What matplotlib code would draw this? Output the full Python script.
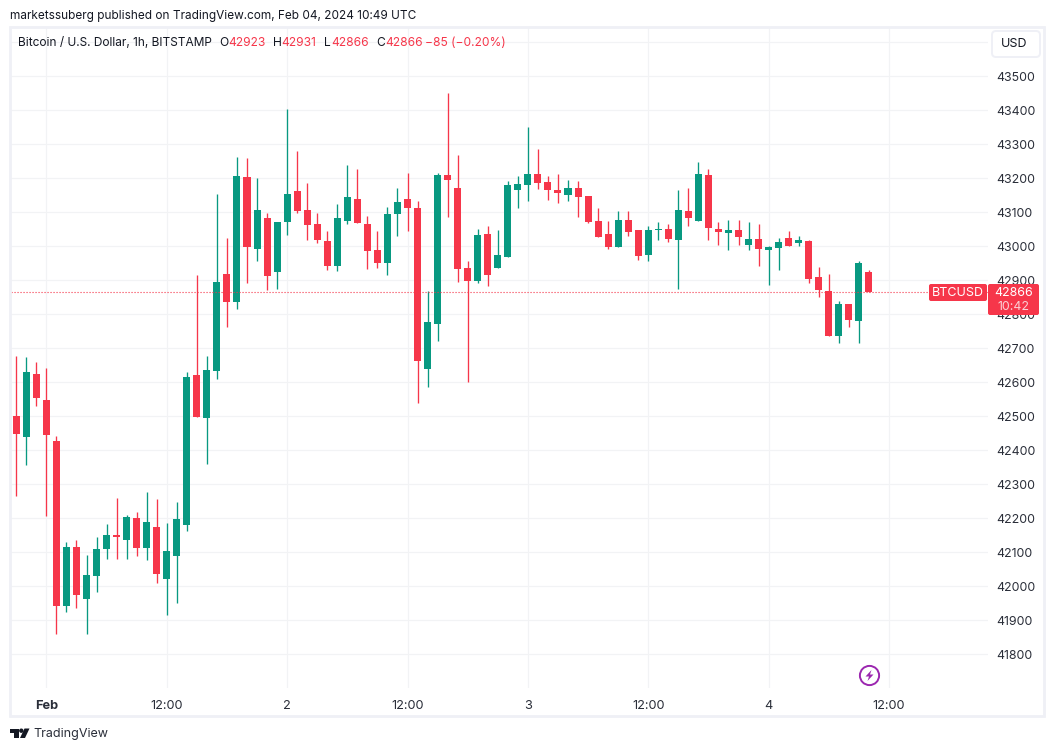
import matplotlib
matplotlib.use("Agg")
import matplotlib.pyplot as plt
from matplotlib.patches import FancyBboxPatch, Rectangle, Circle, Polygon

opens = [42501,42439,42624,42548,42427,41942,42115,41963,42030,42110,42151,42136,42201,42113,42174,42021,42089,42180,42621,42495,
         42633,42919,42836,43204,42992,43083,42924,43071,43163,43107,43066,43016,42942,43074,43139,43066,42989,42951,43095,43139,
         43113,42639,42771,43210,43171,42936,42898,43036,42936,42968,43166,43180,43213,43189,43166,43151,43171,43148,43074,43036,
         42998,43077,43048,42974,43048,43051,43018,43104,43074,43210,43051,43039,43048,43004,43021,42989,42995,43024,43010,43016,
         42910,42869,42736,42830,42780,42923]
closes = [42448,42630,42554,42445,41942,42115,41974,42033,42110,42151,42145,42204,42113,42189,42036,42104,42198,42616,42498,42636,
          42895,42836,43207,42998,43107,42913,43071,43154,43104,43063,43018,42942,43083,43145,43068,42986,42951,43095,43130,43113,
          42663,42777,43210,43195,42933,42898,43033,42916,42974,43180,43183,43213,43186,43166,43157,43171,43145,43071,43027,42998,
          43077,43042,42971,43048,43051,43021,43107,43083,43213,43054,43042,43048,43027,43021,42992,42998,43013,43001,43018,42904,
          42871,42736,42830,42783,42951,42866]
highs = [42677,42674,42660,42642,42442,42130,42136,42092,42145,42183,42260,42210,42218,42277,42257,42186,42248,42630,42916,42677,
         43154,43024,43263,43260,43201,43098,43071,43404,43280,43186,43098,43045,43124,43239,43227,43089,43045,43116,43171,43216,
         43133,42868,43216,43451,43268,42957,43051,43060,43048,43192,43207,43351,43286,43207,43213,43195,43192,43148,43113,43074,
         43104,43104,43048,43060,43071,43066,43166,43171,43248,43227,43071,43077,43077,43071,43066,43001,43024,43045,43030,43018,
         42939,42918,42839,42830,42957,42931]
lows = [42267,42357,42530,42207,41860,41924,41936,41860,41983,42080,42080,42080,42089,42077,42010,41916,41951,42163,42498,42360,
        42610,42763,42816,42892,42957,42871,42874,43033,43098,43018,43010,42930,42927,43066,43068,42933,42936,42916,43030,43045,
        42539,42586,42721,43086,42895,42601,42892,42883,42936,42968,43113,43133,43168,43136,43127,43133,43086,43068,43027,42992,
        42998,43030,42960,42957,43018,43013,42874,43060,43074,43018,43004,42989,43004,42989,42942,42886,42930,43001,43001,42892,
        42851,42736,42716,42763,42716,42866]
last_price = 42866
price_ticks = [43600,43500,43400,43300,43200,43100,43000,42900,42800,42700,42600,42500,42400,42300,42200,42100,42000,41900,41800]
price_labels = ["" if p == 43600 else str(p) for p in price_ticks]
time_ticks = [3,15,27,39,51,63,75,87]
time_labels = ["Feb","12:00","2","12:00","3","12:00","4","12:00"]

RED = "#F6364A"; GREEN = "#089981"; GRID = "#F2F3F5"; BORDER = "#EFF0F6"; TXT = "#131722"; AXT = "#2A2E39"
W, H = 1054, 751
FONT = ["Inter", "DejaVu Sans"]
plt.rcParams["font.family"] = FONT

fig = plt.figure(figsize=(W/100, H/100), dpi=100, facecolor="white")
ax = fig.add_axes([11/W, 1-688/H, (988-11)/W, (688-28)/H])
ax.set_xlim(-0.528, 96.87)
ax.set_ylim(41701, 43642)
for s in ax.spines.values():
    s.set_visible(False)

ax.yaxis.tick_right()
ax.set_yticks(price_ticks, price_labels)
ax.set_xticks(time_ticks, time_labels)
ax.tick_params(axis="x", length=0, labelsize=9.2, labelcolor=AXT, pad=8.5)
ax.tick_params(axis="y", length=0, labelsize=8.9, labelcolor=AXT, pad=5.8)
ax.get_xticklabels()[0].set_fontweight("bold")
ax.grid(True, color=GRID, lw=0.85)
ax.set_axisbelow(True)

xs = list(range(len(opens)))
colors = [GREEN if c >= o else RED for o, c in zip(opens, closes)]
ax.vlines(xs, lows, highs, colors=colors, lw=0.95, zorder=2)
ax.bar(xs, [abs(c-o) for o, c in zip(opens, closes)], bottom=[min(o, c) for o, c in zip(opens, closes)],
       width=0.7, color=colors, linewidth=0, zorder=3)
ax.axhline(last_price, color=RED, lw=0.8, ls=(0, (1.0, 1.7)), zorder=4)

def fx(x): return x/W
def fy(y): return 1-y/H

def rrect(x0, y0, x1, y1, fc, ec="none", lw=0, r=2, z=5):
    p = FancyBboxPatch((x0+r, H-y1+r), x1-x0-2*r, y1-y0-2*r, boxstyle=f"round,pad={r},rounding_size={r}",
                       fc=fc, ec=ec, lw=lw, transform=None, zorder=z)
    fig.add_artist(p)

# panel frame
fig.add_artist(Rectangle((10, H-716), 1034, 716-27, fill=False, ec=BORDER, lw=2, transform=None, zorder=2))

# currency button
rrect(992, 31, 1040, 57, "white", BORDER, 1.4, r=4)
fig.text(fx(1014), fy(44), "USD", ha="center", va="center", fontsize=9.0, color=TXT, zorder=6)

# last price tags
rrect(929, 284, 987, 301, RED, r=2)
rrect(988, 284, 1039, 315, RED, r=2)
fig.text(fx(958), fy(292.5), "BTCUSD", ha="center", va="center", fontsize=9.0, color="white", zorder=6)
fig.text(fx(1013.5), fy(292.5), "42866", ha="center", va="center", fontsize=8.9, color="white", zorder=6)
fig.text(fx(1013.5), fy(307), "10:42", ha="center", va="center", fontsize=8.9, color="#FBD0D5", zorder=6)

# header
fig.text(fx(10), fy(15.5), "marketssuberg published on TradingView.com, Feb 04, 2024 10:49 UTC",
         ha="left", va="center", fontsize=8.5, color=TXT)
fig.text(fx(18), fy(42.5), "Bitcoin / U.S. Dollar, 1h, BITSTAMP", ha="left", va="center", fontsize=8.55, color=TXT)
for x, s, c in [(219, "O", TXT), (228.5, "42923", RED), (272.5, "H", TXT), (281.5, "42931", RED),
                (324, "L", TXT), (331, "42866", RED), (376, "C", TXT), (385, "42866", RED),
                (425, "\u221285 (\u22120.20%)", RED)]:
    fig.text(fx(x), fy(42.5), s, ha="left", va="center", fontsize=8.65, color=c)

# footer logo
LOGO = "#131722"
fig.add_artist(Polygon([(10, H-728.5), (18.5, H-728.5), (18.5, H-738), (14, H-738), (14, H-733), (10, H-733)],
                       closed=True, fc=LOGO, ec="none", transform=None))
fig.add_artist(Circle((21.3, H-730.7), 2.2, fc=LOGO, ec="none", transform=None))
fig.add_artist(Polygon([(24.5, H-728.5), (29.5, H-728.5), (25, H-738), (20, H-738)],
                       closed=True, fc=LOGO, ec="none", transform=None))
fig.text(fx(33.5), fy(734), "TradingView", ha="left", va="center", fontsize=9.0, color="#2A2E39")

# lightning badge
fig.add_artist(Circle((869.5, H-675.5), 9.6, fc="white", ec="#9C27B0", lw=1.4, transform=None, zorder=5))
fig.add_artist(Polygon([(871.5, H-670), (865.5, H-676.5), (869, H-676.5), (867.5, H-681), (873.5, H-674.5), (870, H-674.5)],
                       closed=True, fc="#9C27B0", ec="none", transform=None, zorder=6))

fig.savefig("out.png", dpi=100, facecolor="white")
